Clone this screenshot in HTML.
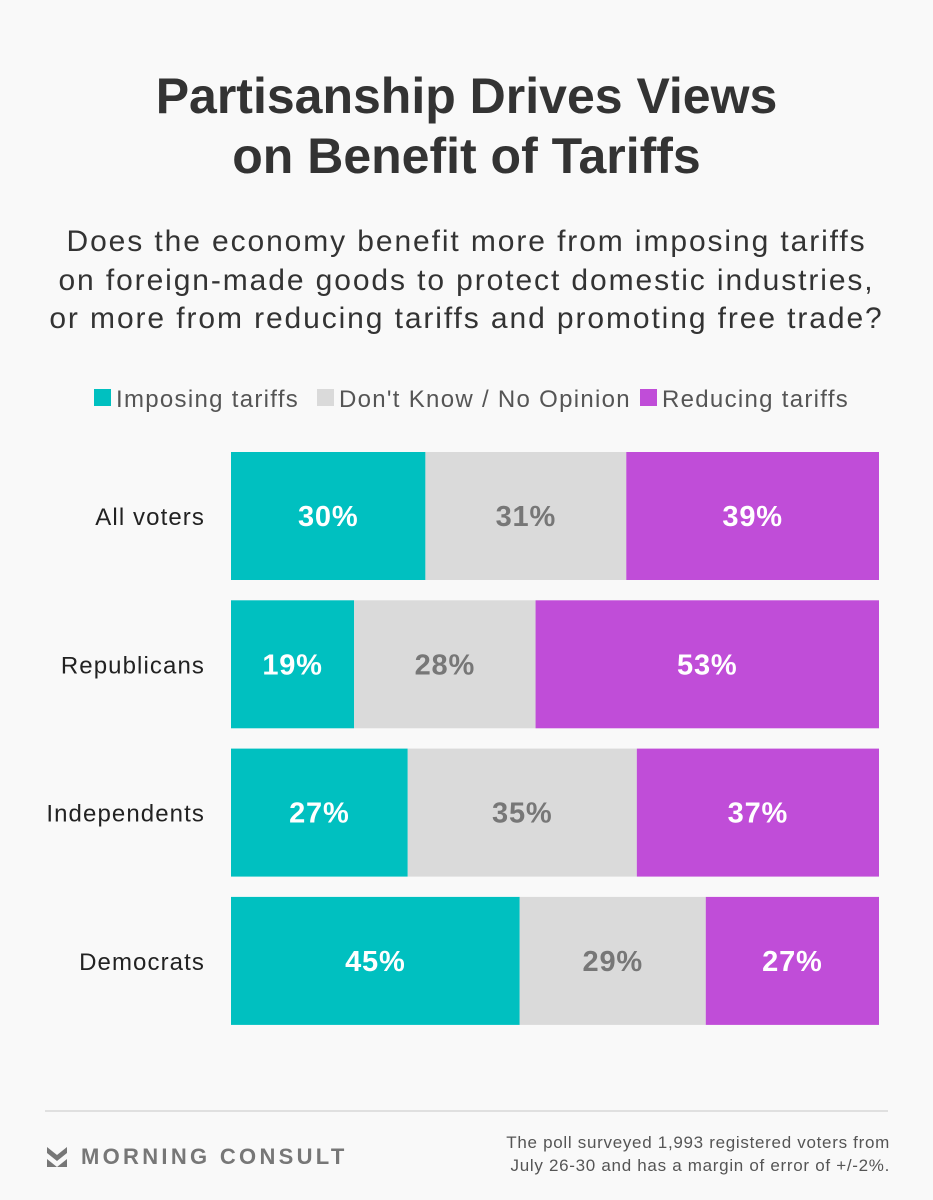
<!DOCTYPE html>
<html><head><meta charset="utf-8"><style>
body{margin:0;background:#f9f9f9;font-family:"Liberation Sans",sans-serif;}
#wrap{position:relative;width:933px;height:1200px;overflow:hidden;background:#f9f9f9;}
.t{position:absolute;left:0;width:933px;text-align:center;color:#333;}
</style></head><body>
<div id="wrap">
<div class="t" style="top:66px;font-size:50px;font-weight:bold;line-height:60px;">Partisanship Drives Views<br>on Benefit of Tariffs</div>
<div class="t" style="top:223px;font-size:30px;line-height:38.5px;color:#333;letter-spacing:1.9px;">Does the economy benefit more from imposing tariffs<br>on foreign-made goods to protect domestic industries,<br>or more from reducing tariffs and promoting free trade?</div>
<svg id="chart" width="933" height="1200" style="position:absolute;left:0;top:0"></svg>
<div style="position:absolute;left:45px;top:1110px;width:843px;height:2px;background:#e0e0e0"></div>
<div style="position:absolute;left:47px;top:1145px;height:24px;display:flex;align-items:center;">
<svg width="20" height="20" viewBox="0 0 20 20"><polygon points="0,0 10,8 20,0 20,6 10,14 0,6" fill="#777"/><polygon points="0,12 10,20 0,20" fill="#777"/><polygon points="20,12 10,20 20,20" fill="#777"/></svg>
<span style="margin-left:14px;font-size:22px;font-weight:bold;color:#777;letter-spacing:3.3px">MORNING CONSULT</span></div>
<div style="position:absolute;right:43px;top:1131px;text-align:right;font-size:17px;line-height:23px;color:#555;letter-spacing:0.7px">The poll surveyed 1,993 registered voters from<br>July 26-30 and has a margin of error of +/-2%.</div>
</div>
<script>
const categories=["All voters","Republicans","Independents","Democrats"];
const imposing=[30,19,27,45];
const dontKnow=[31,28,35,29];
const reducing=[39,53,37,27];
const seriesNames=["Imposing tariffs","Don't Know / No Opinion","Reducing tariffs"];
const colors=["#00c0c0","#dadada","#c04dd8"];
const textColors=["#fff","#777","#fff"];
const svg=document.getElementById('chart');
const NS="http://www.w3.org/2000/svg";
const x0=231,x1=879,y0=452,pitch=148.3,bh=128;
function xs(frac){return x0+frac*(x1-x0);}
function yb(i){return y0+i*pitch;}
const legX=[94,317,640];
seriesNames.forEach((n,k)=>{
 const r=document.createElementNS(NS,'rect');
 r.setAttribute('x',legX[k]);r.setAttribute('y',389);r.setAttribute('width',17);r.setAttribute('height',17);r.setAttribute('fill',colors[k]);
 
 
 svg.appendChild(r);
 const t=document.createElementNS(NS,'text');
 t.setAttribute('x',legX[k]+22);t.setAttribute('y',407);t.setAttribute('font-size','24');t.setAttribute('fill','#555');
 t.setAttribute('letter-spacing','1.3');
 t.textContent=n;
 
 
 svg.appendChild(t);
});
const series=[imposing,dontKnow,reducing];
categories.forEach((c,i)=>{
 const lab=document.createElementNS(NS,'text');
 lab.setAttribute('x',205);lab.setAttribute('y',yb(i)+bh/2+9);lab.setAttribute('text-anchor','end');
 lab.setAttribute('font-size','24');lab.setAttribute('fill','#222');lab.setAttribute('letter-spacing','1.1');lab.textContent=c;
 
 
 svg.appendChild(lab);
 const tot=imposing[i]+dontKnow[i]+reducing[i];
 let acc=0;
 series.forEach((s,k)=>{
  const a=xs(acc/tot),b=xs((acc+s[i])/tot);acc+=s[i];
  const r=document.createElementNS(NS,'rect');
  r.setAttribute('x',a);r.setAttribute('y',yb(i));r.setAttribute('width',b-a);r.setAttribute('height',bh);r.setAttribute('fill',colors[k]);
  
  
  svg.appendChild(r);
  const t=document.createElementNS(NS,'text');
  t.setAttribute('x',(a+b)/2);t.setAttribute('y',yb(i)+bh/2+10);t.setAttribute('text-anchor','middle');
  t.setAttribute('font-size','29');t.setAttribute('font-weight','bold');t.setAttribute('fill',textColors[k]);
  t.setAttribute('letter-spacing','0.8');
  t.textContent=s[i]+'%';
  
  
  svg.appendChild(t);
 });
});
</script>
</body></html>
